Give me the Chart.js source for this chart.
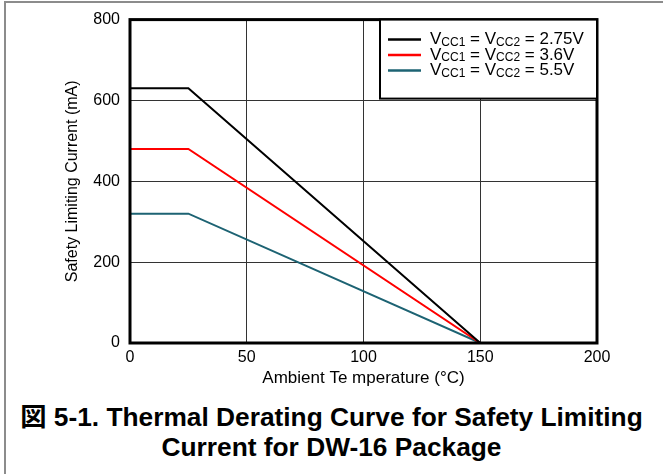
<!DOCTYPE html>
<html>
<head>
<meta charset="utf-8">
<script src="https://cdn.jsdelivr.net/npm/chart.js@4/dist/chart.umd.min.js"></script>
<style>
    body { margin: 0; background: #fff; width: 663px; height: 474px; overflow: hidden; position: relative; }
    #frame { position: absolute; left: 4px; top: 1px; width: 700px; height: 500px; border-left: 2px solid #8c8c8c; border-top: 2px solid #8c8c8c; }
    #wrap { position: absolute; left: 0; top: 0; width: 663px; height: 392px; }
    #caption { position: absolute; left: 0; top: 402px; width: 663px; text-align: center;
        font-family: "Liberation Sans", Arial, "Noto Sans CJK JP", sans-serif; font-weight: bold;
        font-size: 26.3px; line-height: 30px; color: #000; white-space: nowrap; }
</style>
</head>
<body>
<div id="frame"></div>
<div id="wrap"><canvas id="myChart"></canvas></div>
<div id="caption">図 5-1. Thermal Derating Curve for Safety Limiting<br>Current for DW-16 Package</div>
<script>
// derating points
var TEMPS = [0, 25, 150];
var I_275 = [630, 630, 0];
var I_36 = [480, 480, 0];
var I_55 = [320, 320, 0];
var SERIES_VOLTS = ['2.75V', '3.6V', '5.5V'];
var SERIES_COLORS = ['#000000', '#ff0000', '#1d6373'];
var X_TICKS = [0, 50, 100, 150, 200];
var Y_TICKS = [0, 200, 400, 600, 800];

var FONT = '"Liberation Sans", Arial, sans-serif';

function points(ys) {
    var out = [];
    for (var i = 0; i < TEMPS.length; i++) {
        out.push({x: TEMPS[i], y: ys[i]});
    }
    return out;
}

function ds(ys, i) {
    return {
        label: 'VCC1 = VCC2 = ' + SERIES_VOLTS[i],
        data: points(ys),
        borderColor: SERIES_COLORS[i],
        borderWidth: 2,
        pointRadius: 0,
        fill: false,
        tension: 0
    };
}

// frame around plot + legend with subscripts
var framePlugin = {
    id: 'framePlugin',
    afterDraw: function (chart) {
        var c = chart.ctx;
        var a = chart.chartArea;
        c.save();
        c.strokeStyle = '#000';
        c.lineWidth = 3;
        c.strokeRect(a.left, a.top, a.right - a.left, a.bottom - a.top);

        var bw = 217, bh = 79;
        var bx = a.right - bw, by = a.top;
        c.fillStyle = '#fff';
        c.fillRect(bx, by, bw, bh);
        c.lineWidth = 2;
        c.strokeRect(bx, by, bw, bh);

        for (var i = 0; i < SERIES_VOLTS.length; i++) {
            var y = by + 20 + i * 15.5;
            c.strokeStyle = SERIES_COLORS[i];
            c.lineWidth = 2.5;
            c.beginPath();
            c.moveTo(bx + 8, y);
            c.lineTo(bx + 41, y);
            c.stroke();

            var x = bx + 50;
            c.fillStyle = '#000';
            c.textBaseline = 'middle';
            c.textAlign = 'left';
            var parts = [['V', 0], ['CC1', 1], [' = V', 0], ['CC2', 1], [' = ' + SERIES_VOLTS[i], 0]];
            for (var k = 0; k < parts.length; k++) {
                var sub = parts[k][1];
                c.font = (sub ? '12px ' : '17px ') + FONT;
                c.fillText(parts[k][0], x, sub ? y + 3 : y);
                x += c.measureText(parts[k][0]).width;
            }
        }
        c.restore();
    }
};

const ctx = document.getElementById('myChart').getContext('2d');
const myChart = new Chart(ctx, {
    type: 'line',
    data: {
        datasets: [ds(I_275, 0), ds(I_36, 1), ds(I_55, 2)]
    },
    options: {
        responsive: true,
        maintainAspectRatio: false,
        animation: false,
        layout: { padding: { top: 18, right: 66, bottom: 0, left: 0 } },
        plugins: { legend: { display: false }, tooltip: { enabled: false } },
        scales: {
            x: {
                type: 'linear',
                min: 0,
                max: 200,
                afterBuildTicks: function (s) { s.ticks = X_TICKS.map(function (v) { return {value: v}; }); },
                afterFit: function (s) { s.height = 49; },
                grid: { color: '#333', lineWidth: 1, drawTicks: false },
                border: { display: false },
                ticks: { color: '#000', padding: 5, maxRotation: 0, font: { family: FONT, size: 16 } },
                title: {
                    display: true,
                    text: 'Ambient Te mperature (°C)',
                    color: '#000',
                    padding: { top: 0, bottom: 3 },
                    font: { family: FONT, size: 17 }
                }
            },
            y: {
                min: 0,
                max: 800,
                afterBuildTicks: function (s) { s.ticks = Y_TICKS.map(function (v) { return {value: v}; }); },
                afterFit: function (s) { s.width = 130; },
                grid: { color: '#333', lineWidth: 1, drawTicks: false },
                border: { display: false },
                ticks: { color: '#000', padding: 10, font: { family: FONT, size: 16 } },
                title: {
                    display: true,
                    text: 'Safety Limiting Current (mA)',
                    color: '#000',
                    padding: { top: 63, bottom: 0 },
                    font: { family: FONT, size: 16 }
                }
            }
        }
    },
    plugins: [framePlugin]
});
</script>
</body>
</html>
